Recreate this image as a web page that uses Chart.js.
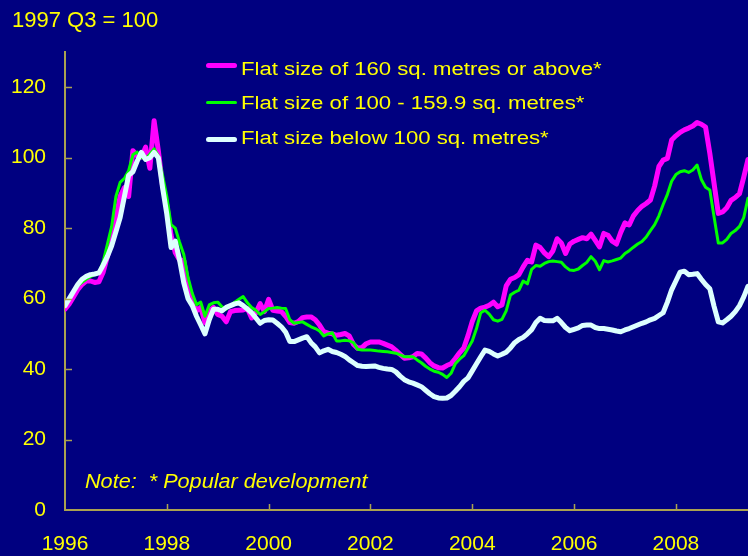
<!DOCTYPE html>
<html>
<head>
<meta charset="utf-8">
<script src="https://cdn.jsdelivr.net/npm/chart.js@4.4.0/dist/chart.umd.min.js"></script>
<style>
  html, body { margin: 0; padding: 0; background: #000080; }
  #wrap { position: relative; width: 748px; height: 556px; overflow: hidden; background: #000080; }
  #chart { position: absolute; left: 0; top: 0; }
  .txt { position: absolute; color: #ffff00; font-family: 'Liberation Sans', Arial, sans-serif;
         white-space: nowrap; line-height: 1; transform-origin: 0 0; }
  .key { position: absolute; left: 206px; width: 31px; border-radius: 3px; }
</style>
</head>
<body>
<div id="wrap">
  <canvas id="chart" width="748" height="556"></canvas>
  <div class="txt" style="left:12px; top:9px; font-size:22px;">1997 Q3 = 100</div>

  <div class="key" style="top:63px; height:5px; background:#ff00ff;"></div>
  <div class="txt" style="left:241px; top:60px; font-size:18px; transform:scaleX(1.23);" id="lg0"></div>
  <div class="key" style="top:101px; height:3px; background:#00ff00;"></div>
  <div class="txt" style="left:241px; top:94px; font-size:18px; transform:scaleX(1.23);" id="lg1"></div>
  <div class="key" style="top:137px; height:5px; background:#ddffff;"></div>
  <div class="txt" style="left:241px; top:129px; font-size:18px; transform:scaleX(1.23);" id="lg2"></div>

  <div class="txt" style="left:85px; top:470px; font-size:21px; font-style:italic; transform:scaleX(1.03);">Note:&nbsp; * Popular development</div>
</div>
<script>
// monthly index, Jan 1996 onwards (1997 Q3 = 100)
const startYear = 1996;
const seriesNames = [
  'Flat size of 160 sq. metres or above*',
  'Flat size of 100 - 159.9 sq. metres*',
  'Flat size below 100 sq. metres*'
];

const bigFlats = [
  57, 58.5, 60.5, 62.5, 64, 65, 65, 64.6, 64.8, 67.5,
  72, 76.5, 83, 89, 91.5, 89, 102, 100.5, 100.2, 103,
  97, 110.5, 102, 92, 86.5, 78, 73, 71, 70.8, 64,
  60, 56.5, 57.5, 53.2, 56.5, 57.5, 55.5, 55, 53.4, 56.3,
  56.6, 56.7, 56.8, 57.2, 54.5, 56, 58.6, 56.3, 59.8, 56.7,
  56.5, 56.3, 55, 53.2, 53, 53.5, 54.6, 54.8, 54.8, 54,
  52.5, 50.6, 50.2, 50, 49.6, 49.8, 50.1, 49.4, 47, 45.9,
  46.1, 47.2, 47.7, 47.7, 47.7, 47.3, 46.8, 46.3, 45.3, 44.2,
  43.1, 43.2, 43.5, 44.4, 44.3, 43.2, 41.8, 40.9, 40.4, 40.3,
  41, 41.5, 43, 44.6, 46, 49.5, 53.5, 56.5, 57.3, 57.6,
  58.1, 59, 57.7, 58.2, 63.6, 65.5, 66, 66.8, 69, 70.9,
  70.4, 75.2, 74.5, 73, 71.9, 73.5, 77, 75.8, 72.8, 75.5,
  76.3, 76.8, 77.3, 77, 78.3, 76.5, 74.7, 78.5, 78, 76.3,
  75.5, 78.8, 81.5, 80.9, 83.5, 85, 86.2, 87, 88, 92,
  97.5, 99.3, 99.8, 105, 106.2, 107.2, 107.9, 108.4, 109, 110,
  109.5, 108.7, 101.2, 92.7, 84.2, 84.6, 85.8, 87.9, 88.7, 89.8,
  94.5, 99.5
];

const midFlats = [
  58, 60, 62, 63.6, 64.6, 65.5, 66.2, 66.8, 67.3, 70.5,
  75.5, 80.5, 89, 93, 94.1, 96.3, 100.8, 101.6, 100, 99.6,
  101, 102.5, 100.5, 95, 89, 81, 80, 76, 72.5, 66,
  61.5, 58.3, 59, 55, 58.2, 58.8, 59, 57.7, 57, 58,
  59, 59.8, 60.6, 58.8, 57.5, 56.7, 55.5, 56.3, 57.2, 57.3,
  57.5, 57.3, 57.2, 54, 53, 53.2, 53.4, 52.7, 52, 51.5,
  50.8, 49.4, 50, 50.3, 48, 48, 48.2, 48, 47.5, 45.6,
  45.4, 45.4, 45.4, 45.3, 45.1, 45, 44.9, 44.7, 44.5, 44,
  43.5, 43.5, 43.5, 42.6, 41.8, 40.8, 40, 39.4, 39.1, 38.5,
  37.6, 38.8, 41.5, 42.8, 43.8, 45.9, 48, 51.5, 56, 56.7,
  55.6, 54, 53.6, 54.1, 56.5, 61, 61.8, 62.4, 65, 64.2,
  68.3, 69.4, 69.2, 70, 70.5, 70.7, 70.5, 70.3, 69, 68.1,
  68, 68.4, 69.4, 70.3, 71.9, 70.6, 68.2, 70.8, 70.4, 70.7,
  71.1, 71.5, 72.8, 73.6, 74.6, 75.5, 76.2, 77.5, 79.3, 81,
  83.5, 86.7, 89.6, 93.3, 95.2, 96, 96.3, 95.8, 96.5, 97.9,
  93.8, 91.6, 90.8, 83.2, 75.8, 75.8, 76.8, 78.5, 79.3, 80.5,
  83, 88.5
];

const smallFlats = [
  58, 60, 62, 64, 65.5, 66.3, 66.8, 67, 67.3, 69.5,
  72, 75, 79, 83, 89, 95, 96, 99, 101.5, 99.5,
  100, 101.5, 100, 91.5, 84, 74.5, 76.3, 71, 64.5, 60,
  58, 55, 52.5, 50, 54, 57, 57, 56.5, 57.5, 58,
  58.5, 58.8, 58, 57, 56, 54.5, 53, 53.8, 54, 53.9,
  53, 52, 50.5, 47.8, 47.8, 48.3, 48.8, 49.2, 47.5, 46.3,
  44.6, 45.2, 45.6, 45, 44.7, 44.2, 43.6, 42.6, 41.8, 41,
  40.8, 40.7, 40.8, 40.9, 40.5, 40.2, 40, 39.9, 39.2, 38,
  37, 36.4, 36, 35.5, 35, 34, 33, 32.2, 31.8, 31.7,
  31.8, 32.5, 33.7, 35, 36.5, 37.5, 39.5, 41.5, 43.5, 45.4,
  45, 44.3, 43.7, 44.2, 44.8, 46, 47.5, 48.4, 49, 50,
  51.2, 53.2, 54.4, 53.8, 53.7, 53.7, 54.4, 53.2, 51.8, 50.9,
  51.3, 51.7, 52.4, 52.5, 52.5, 51.8, 51.5, 51.5, 51.3, 51.1,
  50.8, 50.6, 51.1, 51.5, 52, 52.5, 53, 53.4, 54, 54.4,
  55.2, 56, 59, 62.5, 65, 67.5, 67.8, 66.8, 66.9, 67.1,
  65.5, 64, 62.8, 57.8, 53.4, 53.1, 54, 55, 56.3, 58,
  60.5, 63.5
];

const xTicks = [1996, 1998, 2000, 2002, 2004, 2006, 2008];
const yTicks = [0, 20, 40, 60, 80, 100, 120];

const yellow = '#ffff00';
const axisColor = '#aaa250';
const fontFamily = "'Liberation Sans', Arial, sans-serif";

document.getElementById('lg0').textContent = seriesNames[0];
document.getElementById('lg1').textContent = seriesNames[1];
document.getElementById('lg2').textContent = seriesNames[2];

// month position as decimal year
const toPoints = arr => arr.map((v, i) => ({ x: startYear + i / 12, y: v }));
const lastX = startYear + (bigFlats.length - 1) / 12;

// small tick marks pointing into the plot
const innerTicks = {
  id: 'innerTicks',
  afterDraw(chart) {
    const { ctx, chartArea, scales } = chart;
    ctx.save();
    ctx.strokeStyle = axisColor;
    ctx.lineWidth = 1.5;
    ctx.beginPath();
    xTicks.forEach(t => {
      if (t === startYear) return;
      const x = Math.round(scales.x.getPixelForValue(t)) + 0.5;
      ctx.moveTo(x, chartArea.bottom);
      ctx.lineTo(x, chartArea.bottom - 6);
    });
    yTicks.forEach(t => {
      if (t === 0) return;
      const y = Math.round(scales.y.getPixelForValue(t)) + 0.5;
      ctx.moveTo(chartArea.left, y);
      ctx.lineTo(chartArea.left + 7, y);
    });
    ctx.stroke();
    ctx.restore();
  }
};

const ctx = document.getElementById('chart').getContext('2d');
new Chart(ctx, {
  type: 'line',
  data: {
    datasets: [
      { label: seriesNames[0], data: toPoints(bigFlats), borderColor: '#ff00ff', borderWidth: 5, order: 3 },
      { label: seriesNames[1], data: toPoints(midFlats), borderColor: '#00ff00', borderWidth: 3, order: 2 },
      { label: seriesNames[2], data: toPoints(smallFlats), borderColor: '#ddffff', borderWidth: 5, order: 1 }
    ]
  },
  options: {
    responsive: false,
    animation: false,
    layout: { padding: { top: 52, right: 0, left: 0, bottom: 0 } },
    plugins: { legend: { display: false }, tooltip: { enabled: false } },
    elements: {
      point: { radius: 0 },
      line: { tension: 0, fill: false, borderJoinStyle: 'round', borderCapStyle: 'round' }
    },
    scales: {
      x: {
        type: 'linear',
        min: startYear,
        max: lastX,
        afterBuildTicks: s => { s.ticks = xTicks.map(v => ({ value: v })); },
        afterFit: s => { s.height = 46; },
        grid: { display: false, drawTicks: false },
        border: { display: true, color: axisColor, width: 2 },
        ticks: {
          color: yellow, font: { family: fontFamily, size: 21 },
          padding: 22, maxRotation: 0, autoSkip: false,
          callback: v => String(v)
        }
      },
      y: {
        min: 0,
        max: 130,
        afterBuildTicks: s => { s.ticks = yTicks.map(v => ({ value: v })); },
        afterFit: s => { s.width = 65; },
        grid: { display: false, drawTicks: false },
        border: { display: true, color: axisColor, width: 2 },
        ticks: {
          color: yellow, font: { family: fontFamily, size: 21 },
          padding: 19,
          callback: v => String(v)
        }
      }
    }
  },
  plugins: [innerTicks]
});
</script>
</body>
</html>
